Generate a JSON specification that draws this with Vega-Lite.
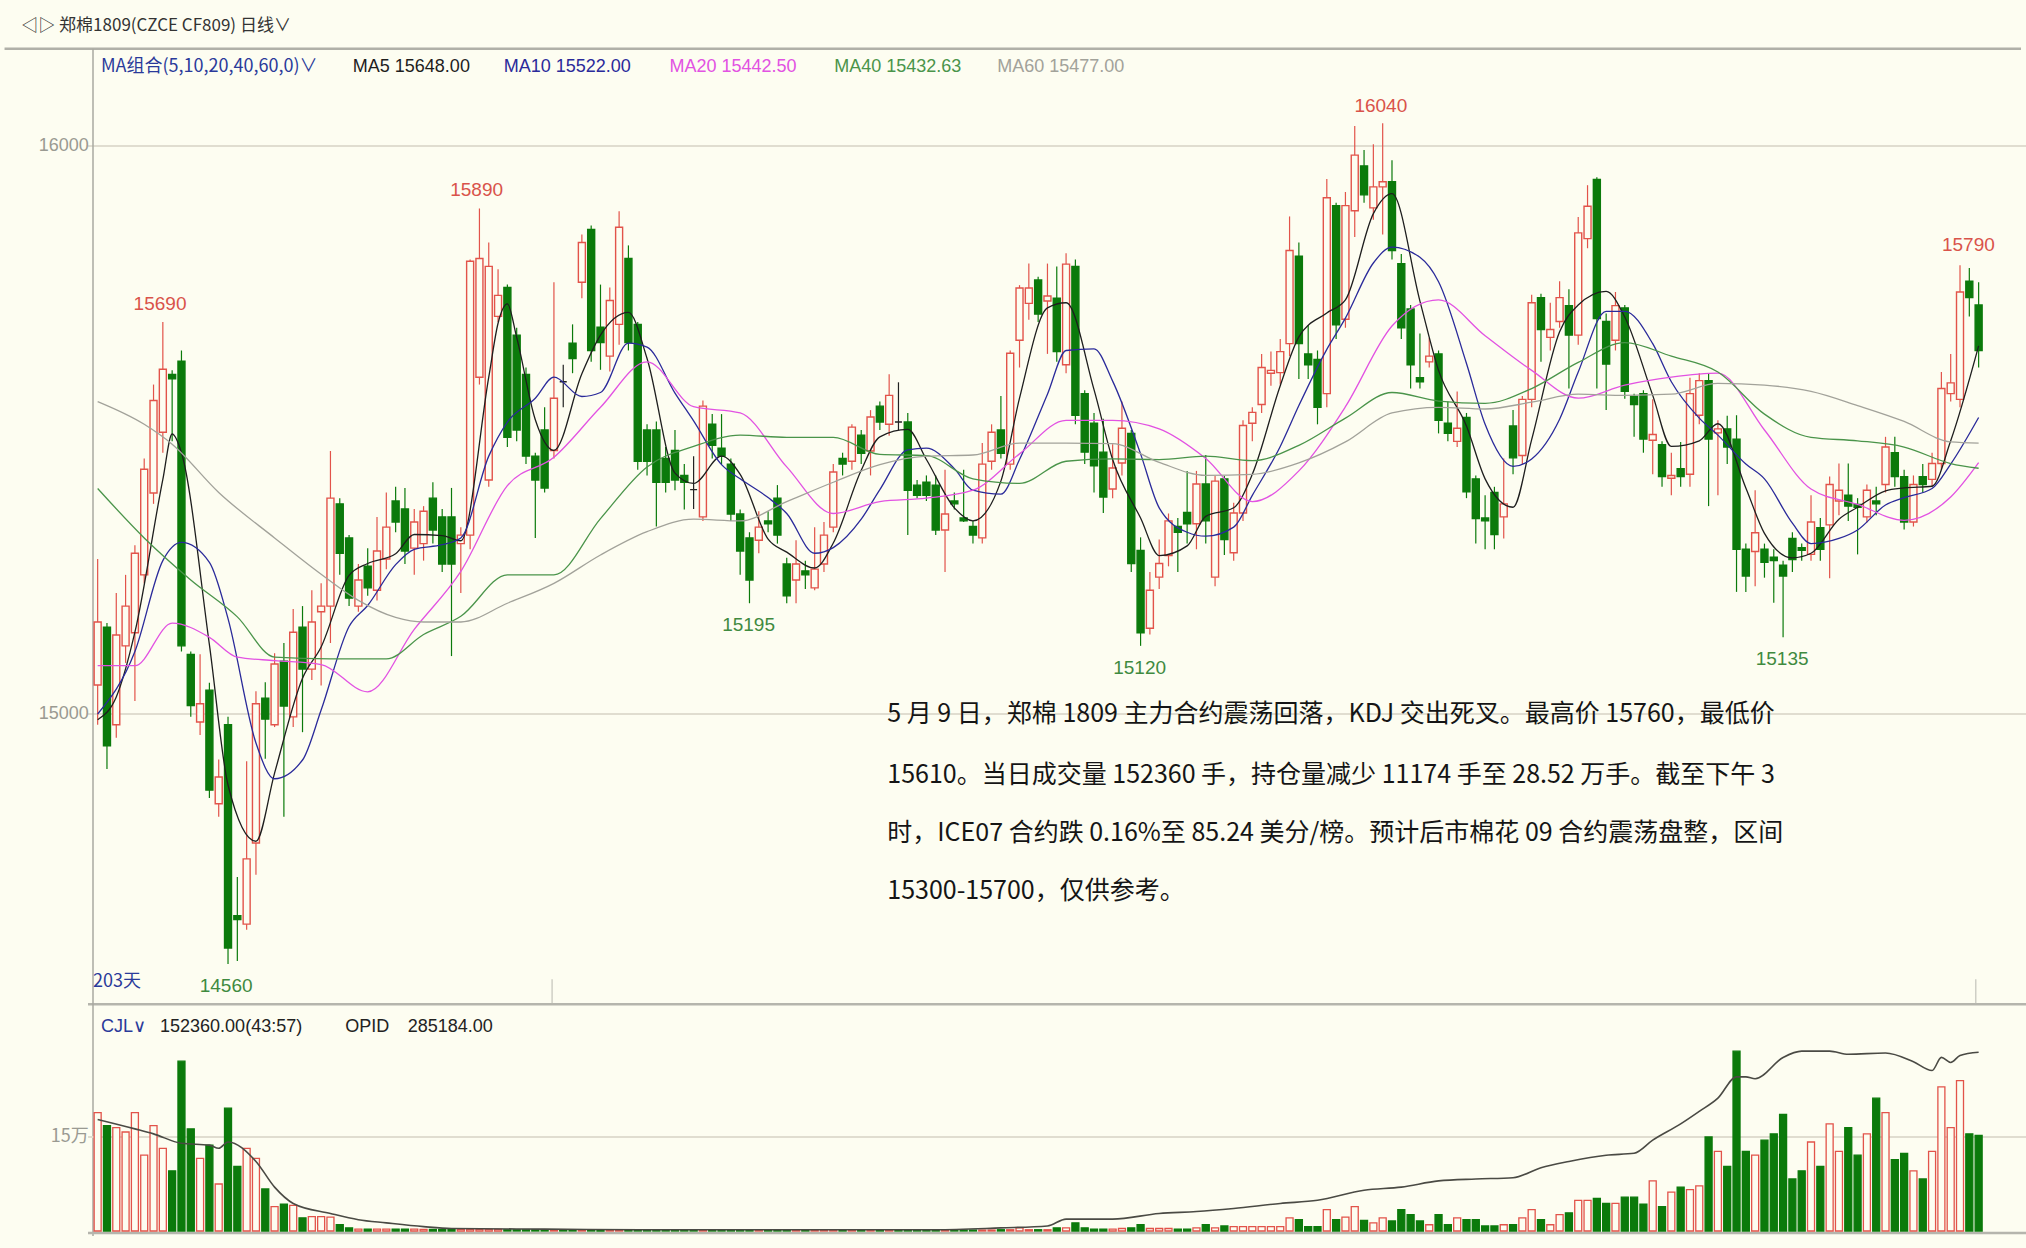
{
"$schema":"https://vega.github.io/schema/vega-lite/v6.json",
"width":1938,"height":1248,
"autosize":{"type":"none"},
"padding":{"left":88,"top":0,"right":0,"bottom":0},
"background":"#fdfdf1",
"config":{"view":{"stroke":null},"text":{"font":"Liberation Sans"}},
"datasets":{
"k":[
{"i":0,"o":15051,"h":15273,"l":14981,"c":15162,"v":189000},
{"i":1,"o":15153,"h":15160,"l":14903,"c":14944,"v":168000},
{"i":2,"o":14981,"h":15213,"l":14958,"c":15139,"v":165000},
{"i":3,"o":15120,"h":15245,"l":15090,"c":15190,"v":158000},
{"i":4,"o":15143,"h":15297,"l":15023,"c":15283,"v":189000},
{"i":5,"o":15245,"h":15450,"l":15230,"c":15431,"v":121000},
{"i":6,"o":15389,"h":15580,"l":15370,"c":15552,"v":168000},
{"i":7,"o":15496,"h":15690,"l":15460,"c":15607,"v":132000},
{"i":8,"o":15598,"h":15605,"l":15480,"c":15590,"v":96000},
{"i":9,"o":15621,"h":15640,"l":15110,"c":15120,"v":271000},
{"i":10,"o":15105,"h":15110,"l":14995,"c":15015,"v":163000},
{"i":11,"o":14986,"h":15105,"l":14963,"c":15018,"v":116000},
{"i":12,"o":15042,"h":15055,"l":14852,"c":14866,"v":137000},
{"i":13,"o":14842,"h":14920,"l":14819,"c":14889,"v":75000},
{"i":14,"o":14981,"h":14995,"l":14560,"c":14588,"v":196000},
{"i":15,"o":14645,"h":14713,"l":14565,"c":14638,"v":103000},
{"i":16,"o":14630,"h":14917,"l":14620,"c":14745,"v":132000},
{"i":17,"o":14773,"h":15040,"l":14717,"c":15018,"v":116000},
{"i":18,"o":15028,"h":15056,"l":14921,"c":14991,"v":67000},
{"i":19,"o":14981,"h":15107,"l":14977,"c":15088,"v":39000},
{"i":20,"o":15093,"h":15125,"l":14819,"c":15014,"v":43000},
{"i":21,"o":14995,"h":15185,"l":14977,"c":15144,"v":41000},
{"i":22,"o":15153,"h":15190,"l":14968,"c":15079,"v":21000},
{"i":23,"o":15079,"h":15218,"l":15060,"c":15162,"v":23000},
{"i":24,"o":15180,"h":15230,"l":15050,"c":15190,"v":23000},
{"i":25,"o":15190,"h":15463,"l":15125,"c":15380,"v":22000},
{"i":26,"o":15370,"h":15380,"l":15245,"c":15283,"v":10000},
{"i":27,"o":15310,"h":15315,"l":15190,"c":15204,"v":5000},
{"i":28,"o":15190,"h":15264,"l":15180,"c":15236,"v":3000},
{"i":29,"o":15260,"h":15292,"l":15208,"c":15222,"v":3000},
{"i":30,"o":15218,"h":15347,"l":15200,"c":15287,"v":3000},
{"i":31,"o":15273,"h":15390,"l":15255,"c":15329,"v":3000},
{"i":32,"o":15375,"h":15400,"l":15320,"c":15338,"v":3000},
{"i":33,"o":15361,"h":15398,"l":15264,"c":15287,"v":3000},
{"i":34,"o":15292,"h":15361,"l":15245,"c":15338,"v":3000},
{"i":35,"o":15300,"h":15366,"l":15270,"c":15357,"v":2500},
{"i":36,"o":15380,"h":15408,"l":15300,"c":15324,"v":2500},
{"i":37,"o":15347,"h":15361,"l":15250,"c":15264,"v":2500},
{"i":38,"o":15347,"h":15398,"l":15102,"c":15264,"v":2500},
{"i":39,"o":15300,"h":15329,"l":15213,"c":15315,"v":2500},
{"i":40,"o":15315,"h":15800,"l":15290,"c":15797,"v":2500},
{"i":41,"o":15593,"h":15890,"l":15580,"c":15802,"v":2500},
{"i":42,"o":15412,"h":15830,"l":15400,"c":15788,"v":2500},
{"i":43,"o":15700,"h":15783,"l":15690,"c":15737,"v":2500},
{"i":44,"o":15751,"h":15756,"l":15470,"c":15487,"v":2000},
{"i":45,"o":15667,"h":15680,"l":15480,"c":15500,"v":2000},
{"i":46,"o":15598,"h":15610,"l":15440,"c":15454,"v":2000},
{"i":47,"o":15454,"h":15460,"l":15310,"c":15412,"v":2000},
{"i":48,"o":15500,"h":15540,"l":15390,"c":15398,"v":2000},
{"i":49,"o":15464,"h":15760,"l":15450,"c":15556,"v":2000},
{"i":50,"o":15585,"h":15615,"l":15540,"c":15585,"v":1500},
{"i":51,"o":15653,"h":15686,"l":15600,"c":15626,"v":1500},
{"i":52,"o":15760,"h":15844,"l":15732,"c":15830,"v":1500},
{"i":53,"o":15853,"h":15860,"l":15620,"c":15640,"v":1500},
{"i":54,"o":15681,"h":15756,"l":15606,"c":15654,"v":1500},
{"i":55,"o":15630,"h":15751,"l":15603,"c":15728,"v":1500},
{"i":56,"o":15686,"h":15885,"l":15650,"c":15857,"v":1500},
{"i":57,"o":15802,"h":15825,"l":15640,"c":15654,"v":1500},
{"i":58,"o":15686,"h":15690,"l":15430,"c":15445,"v":1500},
{"i":59,"o":15500,"h":15510,"l":15420,"c":15445,"v":1500},
{"i":60,"o":15500,"h":15515,"l":15330,"c":15408,"v":1500},
{"i":61,"o":15450,"h":15470,"l":15390,"c":15408,"v":1500},
{"i":62,"o":15464,"h":15500,"l":15394,"c":15412,"v":1500},
{"i":63,"o":15420,"h":15440,"l":15360,"c":15408,"v":1500},
{"i":64,"o":15395,"h":15454,"l":15361,"c":15395,"v":1500},
{"i":65,"o":15347,"h":15552,"l":15340,"c":15542,"v":1500},
{"i":66,"o":15510,"h":15528,"l":15450,"c":15473,"v":1500},
{"i":67,"o":15468,"h":15528,"l":15440,"c":15454,"v":1500},
{"i":68,"o":15440,"h":15450,"l":15340,"c":15352,"v":1500},
{"i":69,"o":15352,"h":15360,"l":15245,"c":15287,"v":1500},
{"i":70,"o":15310,"h":15320,"l":15195,"c":15236,"v":1500},
{"i":71,"o":15306,"h":15357,"l":15283,"c":15329,"v":1500},
{"i":72,"o":15340,"h":15357,"l":15320,"c":15335,"v":1500},
{"i":73,"o":15380,"h":15403,"l":15300,"c":15315,"v":1500},
{"i":74,"o":15264,"h":15275,"l":15195,"c":15208,"v":1500},
{"i":75,"o":15236,"h":15306,"l":15195,"c":15264,"v":1500},
{"i":76,"o":15252,"h":15270,"l":15220,"c":15245,"v":1500},
{"i":77,"o":15222,"h":15329,"l":15218,"c":15255,"v":1500},
{"i":78,"o":15264,"h":15338,"l":15250,"c":15315,"v":1500},
{"i":79,"o":15329,"h":15440,"l":15320,"c":15426,"v":1500},
{"i":80,"o":15450,"h":15460,"l":15420,"c":15440,"v":1500},
{"i":81,"o":15445,"h":15510,"l":15430,"c":15505,"v":1500},
{"i":82,"o":15491,"h":15500,"l":15440,"c":15459,"v":1500},
{"i":83,"o":15463,"h":15535,"l":15420,"c":15523,"v":1500},
{"i":84,"o":15542,"h":15550,"l":15500,"c":15514,"v":1500},
{"i":85,"o":15510,"h":15598,"l":15490,"c":15561,"v":1500},
{"i":86,"o":15514,"h":15584,"l":15500,"c":15514,"v":1500},
{"i":87,"o":15514,"h":15530,"l":15315,"c":15394,"v":1500},
{"i":88,"o":15403,"h":15412,"l":15380,"c":15385,"v":1500},
{"i":89,"o":15408,"h":15420,"l":15375,"c":15385,"v":1500},
{"i":90,"o":15403,"h":15420,"l":15315,"c":15324,"v":1500},
{"i":91,"o":15324,"h":15430,"l":15250,"c":15352,"v":1500},
{"i":92,"o":15375,"h":15390,"l":15360,"c":15370,"v":1500},
{"i":93,"o":15345,"h":15430,"l":15338,"c":15340,"v":1500},
{"i":94,"o":15330,"h":15340,"l":15300,"c":15315,"v":1500},
{"i":95,"o":15310,"h":15477,"l":15300,"c":15440,"v":1500},
{"i":96,"o":15445,"h":15510,"l":15430,"c":15496,"v":1500},
{"i":97,"o":15500,"h":15560,"l":15450,"c":15459,"v":2000},
{"i":98,"o":15440,"h":15640,"l":15430,"c":15635,"v":2000},
{"i":99,"o":15658,"h":15755,"l":15610,"c":15750,"v":5000},
{"i":100,"o":15723,"h":15793,"l":15694,"c":15750,"v":2000},
{"i":101,"o":15764,"h":15770,"l":15690,"c":15704,"v":2000},
{"i":102,"o":15727,"h":15793,"l":15634,"c":15736,"v":2000},
{"i":103,"o":15732,"h":15788,"l":15620,"c":15638,"v":5000},
{"i":104,"o":15615,"h":15811,"l":15600,"c":15792,"v":5000},
{"i":105,"o":15788,"h":15800,"l":15510,"c":15526,"v":13000},
{"i":106,"o":15564,"h":15570,"l":15440,"c":15461,"v":5000},
{"i":107,"o":15512,"h":15530,"l":15390,"c":15437,"v":3000},
{"i":108,"o":15461,"h":15520,"l":15354,"c":15382,"v":3000},
{"i":109,"o":15396,"h":15475,"l":15380,"c":15433,"v":3000},
{"i":110,"o":15442,"h":15550,"l":15420,"c":15503,"v":4000},
{"i":111,"o":15494,"h":15500,"l":15250,"c":15265,"v":5000},
{"i":112,"o":15288,"h":15311,"l":15120,"c":15143,"v":10000},
{"i":113,"o":15151,"h":15250,"l":15140,"c":15218,"v":4000},
{"i":114,"o":15241,"h":15307,"l":15220,"c":15265,"v":4000},
{"i":115,"o":15279,"h":15353,"l":15260,"c":15340,"v":4000},
{"i":116,"o":15330,"h":15345,"l":15250,"c":15320,"v":3000},
{"i":117,"o":15355,"h":15428,"l":15300,"c":15335,"v":3000},
{"i":118,"o":15335,"h":15428,"l":15290,"c":15405,"v":5000},
{"i":119,"o":15405,"h":15456,"l":15300,"c":15340,"v":10000},
{"i":120,"o":15241,"h":15419,"l":15225,"c":15410,"v":5000},
{"i":121,"o":15414,"h":15419,"l":15280,"c":15307,"v":8000},
{"i":122,"o":15284,"h":15372,"l":15270,"c":15354,"v":7000},
{"i":123,"o":15354,"h":15517,"l":15340,"c":15508,"v":7000},
{"i":124,"o":15512,"h":15540,"l":15480,"c":15531,"v":7000},
{"i":125,"o":15545,"h":15634,"l":15530,"c":15610,"v":7000},
{"i":126,"o":15600,"h":15638,"l":15578,"c":15605,"v":7000},
{"i":127,"o":15601,"h":15660,"l":15580,"c":15638,"v":7000},
{"i":128,"o":15652,"h":15876,"l":15630,"c":15816,"v":21000},
{"i":129,"o":15806,"h":15830,"l":15590,"c":15652,"v":18000},
{"i":130,"o":15634,"h":15685,"l":15590,"c":15615,"v":7000},
{"i":131,"o":15624,"h":15640,"l":15510,"c":15540,"v":7000},
{"i":132,"o":15564,"h":15942,"l":15540,"c":15909,"v":34000},
{"i":133,"o":15895,"h":15900,"l":15660,"c":15685,"v":18000},
{"i":134,"o":15695,"h":15919,"l":15680,"c":15895,"v":22000},
{"i":135,"o":15886,"h":16035,"l":15840,"c":15984,"v":39000},
{"i":136,"o":15965,"h":15993,"l":15900,"c":15914,"v":17000},
{"i":137,"o":15891,"h":16003,"l":15870,"c":15928,"v":13000},
{"i":138,"o":15928,"h":16040,"l":15844,"c":15937,"v":21000},
{"i":139,"o":15937,"h":15975,"l":15800,"c":15816,"v":16000},
{"i":140,"o":15793,"h":15810,"l":15660,"c":15680,"v":34000},
{"i":141,"o":15713,"h":15720,"l":15573,"c":15615,"v":26000},
{"i":142,"o":15592,"h":15670,"l":15573,"c":15585,"v":16000},
{"i":143,"o":15620,"h":15662,"l":15610,"c":15630,"v":10000},
{"i":144,"o":15634,"h":15640,"l":15494,"c":15517,"v":26000},
{"i":145,"o":15512,"h":15550,"l":15480,"c":15494,"v":10000},
{"i":146,"o":15480,"h":15568,"l":15470,"c":15503,"v":21000},
{"i":147,"o":15522,"h":15530,"l":15380,"c":15391,"v":18000},
{"i":148,"o":15414,"h":15420,"l":15300,"c":15344,"v":18000},
{"i":149,"o":15345,"h":15385,"l":15290,"c":15340,"v":8000},
{"i":150,"o":15390,"h":15400,"l":15290,"c":15316,"v":8000},
{"i":151,"o":15347,"h":15450,"l":15309,"c":15370,"v":10000},
{"i":152,"o":15507,"h":15535,"l":15422,"c":15451,"v":10000},
{"i":153,"o":15455,"h":15560,"l":15440,"c":15554,"v":21000},
{"i":154,"o":15554,"h":15738,"l":15540,"c":15724,"v":34000},
{"i":155,"o":15733,"h":15740,"l":15620,"c":15677,"v":18000},
{"i":156,"o":15663,"h":15724,"l":15640,"c":15677,"v":10000},
{"i":157,"o":15691,"h":15762,"l":15680,"c":15733,"v":26000},
{"i":158,"o":15719,"h":15748,"l":15573,"c":15667,"v":29000},
{"i":159,"o":15667,"h":15875,"l":15650,"c":15847,"v":49000},
{"i":160,"o":15837,"h":15931,"l":15820,"c":15894,"v":49000},
{"i":161,"o":15941,"h":15945,"l":15573,"c":15696,"v":52000},
{"i":162,"o":15691,"h":15705,"l":15535,"c":15616,"v":44000},
{"i":163,"o":15658,"h":15743,"l":15640,"c":15719,"v":44000},
{"i":164,"o":15715,"h":15720,"l":15555,"c":15568,"v":54000},
{"i":165,"o":15559,"h":15564,"l":15488,"c":15545,"v":54000},
{"i":166,"o":15564,"h":15570,"l":15460,"c":15484,"v":43000},
{"i":167,"o":15482,"h":15554,"l":15422,"c":15492,"v":80000},
{"i":168,"o":15474,"h":15480,"l":15400,"c":15418,"v":39000},
{"i":169,"o":15415,"h":15460,"l":15385,"c":15420,"v":62000},
{"i":170,"o":15432,"h":15479,"l":15400,"c":15418,"v":70000},
{"i":171,"o":15422,"h":15592,"l":15400,"c":15564,"v":66000},
{"i":172,"o":15526,"h":15600,"l":15510,"c":15587,"v":72000},
{"i":173,"o":15587,"h":15600,"l":15366,"c":15484,"v":150000},
{"i":174,"o":15495,"h":15517,"l":15385,"c":15502,"v":127000},
{"i":175,"o":15502,"h":15525,"l":15440,"c":15470,"v":103000},
{"i":176,"o":15484,"h":15526,"l":15215,"c":15290,"v":287000},
{"i":177,"o":15290,"h":15300,"l":15215,"c":15243,"v":127000},
{"i":178,"o":15286,"h":15394,"l":15225,"c":15319,"v":121000},
{"i":179,"o":15290,"h":15300,"l":15240,"c":15267,"v":145000},
{"i":180,"o":15276,"h":15290,"l":15196,"c":15270,"v":155000},
{"i":181,"o":15262,"h":15270,"l":15135,"c":15243,"v":186000},
{"i":182,"o":15309,"h":15320,"l":15250,"c":15272,"v":83000},
{"i":183,"o":15293,"h":15300,"l":15270,"c":15288,"v":96000},
{"i":184,"o":15281,"h":15385,"l":15270,"c":15338,"v":142000},
{"i":185,"o":15328,"h":15345,"l":15270,"c":15290,"v":103000},
{"i":186,"o":15333,"h":15418,"l":15239,"c":15404,"v":171000},
{"i":187,"o":15375,"h":15441,"l":15350,"c":15394,"v":127000},
{"i":188,"o":15385,"h":15441,"l":15340,"c":15366,"v":165000},
{"i":189,"o":15369,"h":15380,"l":15281,"c":15364,"v":121000},
{"i":190,"o":15347,"h":15404,"l":15337,"c":15394,"v":155000},
{"i":191,"o":15375,"h":15400,"l":15350,"c":15370,"v":212000},
{"i":192,"o":15404,"h":15488,"l":15390,"c":15470,"v":189000},
{"i":193,"o":15460,"h":15488,"l":15400,"c":15418,"v":114000},
{"i":194,"o":15418,"h":15430,"l":15325,"c":15338,"v":124000},
{"i":195,"o":15338,"h":15420,"l":15330,"c":15404,"v":96000},
{"i":196,"o":15418,"h":15440,"l":15390,"c":15404,"v":83000},
{"i":197,"o":15413,"h":15460,"l":15400,"c":15441,"v":127000},
{"i":198,"o":15441,"h":15602,"l":15430,"c":15573,"v":230000},
{"i":199,"o":15564,"h":15634,"l":15550,"c":15583,"v":165000},
{"i":200,"o":15554,"h":15790,"l":15540,"c":15743,"v":240000},
{"i":201,"o":15762,"h":15785,"l":15700,"c":15733,"v":155000},
{"i":202,"o":15720,"h":15760,"l":15610,"c":15640,"v":152360}
],
"ma":[
{"ma":"MA5","i":0,"v":14990},{"ma":"MA5","i":2,"v":15030},{"ma":"MA5","i":4,"v":15144},{"ma":"MA5","i":7,"v":15413},{"ma":"MA5","i":8,"v":15493},{"ma":"MA5","i":9,"v":15460},{"ma":"MA5","i":12,"v":15122},{"ma":"MA5","i":14,"v":14875},{"ma":"MA5","i":17,"v":14776},{"ma":"MA5","i":19,"v":14896},{"ma":"MA5","i":22,"v":15063},{"ma":"MA5","i":24,"v":15118},{"ma":"MA5","i":27,"v":15244},{"ma":"MA5","i":29,"v":15265},{"ma":"MA5","i":32,"v":15282},{"ma":"MA5","i":34,"v":15316},{"ma":"MA5","i":37,"v":15314},{"ma":"MA5","i":39,"v":15305},{"ma":"MA5","i":42,"v":15593},{"ma":"MA5","i":43,"v":15688},{"ma":"MA5","i":44,"v":15722},{"ma":"MA5","i":45,"v":15663},{"ma":"MA5","i":47,"v":15518},{"ma":"MA5","i":49,"v":15464},{"ma":"MA5","i":52,"v":15599},{"ma":"MA5","i":54,"v":15667},{"ma":"MA5","i":57,"v":15707},{"ma":"MA5","i":59,"v":15626},{"ma":"MA5","i":62,"v":15424},{"ma":"MA5","i":64,"v":15406},{"ma":"MA5","i":67,"v":15454},{"ma":"MA5","i":69,"v":15422},{"ma":"MA5","i":72,"v":15308},{"ma":"MA5","i":74,"v":15285},{"ma":"MA5","i":77,"v":15257},{"ma":"MA5","i":79,"v":15301},{"ma":"MA5","i":82,"v":15429},{"ma":"MA5","i":84,"v":15488},{"ma":"MA5","i":87,"v":15501},{"ma":"MA5","i":89,"v":15448},{"ma":"MA5","i":92,"v":15363},{"ma":"MA5","i":94,"v":15340},{"ma":"MA5","i":97,"v":15410},{"ma":"MA5","i":99,"v":15556},{"ma":"MA5","i":102,"v":15715},{"ma":"MA5","i":104,"v":15724},{"ma":"MA5","i":107,"v":15571},{"ma":"MA5","i":109,"v":15448},{"ma":"MA5","i":112,"v":15345},{"ma":"MA5","i":114,"v":15279},{"ma":"MA5","i":117,"v":15296},{"ma":"MA5","i":119,"v":15348},{"ma":"MA5","i":122,"v":15363},{"ma":"MA5","i":124,"v":15422},{"ma":"MA5","i":127,"v":15578},{"ma":"MA5","i":129,"v":15664},{"ma":"MA5","i":132,"v":15706},{"ma":"MA5","i":134,"v":15729},{"ma":"MA5","i":137,"v":15881},{"ma":"MA5","i":139,"v":15916},{"ma":"MA5","i":142,"v":15727},{"ma":"MA5","i":144,"v":15605},{"ma":"MA5","i":147,"v":15507},{"ma":"MA5","i":149,"v":15414},{"ma":"MA5","i":152,"v":15364},{"ma":"MA5","i":154,"v":15483},{"ma":"MA5","i":157,"v":15673},{"ma":"MA5","i":159,"v":15720},{"ma":"MA5","i":162,"v":15744},{"ma":"MA5","i":164,"v":15699},{"ma":"MA5","i":167,"v":15561},{"ma":"MA5","i":169,"v":15471},{"ma":"MA5","i":172,"v":15481},{"ma":"MA5","i":174,"v":15511},{"ma":"MA5","i":177,"v":15398},{"ma":"MA5","i":179,"v":15318},{"ma":"MA5","i":182,"v":15275},{"ma":"MA5","i":184,"v":15283},{"ma":"MA5","i":187,"v":15343},{"ma":"MA5","i":189,"v":15364},{"ma":"MA5","i":192,"v":15393},{"ma":"MA5","i":194,"v":15398},{"ma":"MA5","i":197,"v":15401},{"ma":"MA5","i":199,"v":15481},{"ma":"MA5","i":202,"v":15648},
{"ma":"MA10","i":0,"v":15000},{"ma":"MA10","i":4,"v":15110},{"ma":"MA10","i":7,"v":15270},{"ma":"MA10","i":9,"v":15302},{"ma":"MA10","i":12,"v":15267},{"ma":"MA10","i":14,"v":15168},{"ma":"MA10","i":17,"v":14949},{"ma":"MA10","i":19,"v":14886},{"ma":"MA10","i":22,"v":14919},{"ma":"MA10","i":24,"v":15007},{"ma":"MA10","i":27,"v":15154},{"ma":"MA10","i":29,"v":15191},{"ma":"MA10","i":32,"v":15263},{"ma":"MA10","i":34,"v":15290},{"ma":"MA10","i":37,"v":15298},{"ma":"MA10","i":39,"v":15310},{"ma":"MA10","i":42,"v":15454},{"ma":"MA10","i":44,"v":15514},{"ma":"MA10","i":47,"v":15556},{"ma":"MA10","i":49,"v":15593},{"ma":"MA10","i":52,"v":15559},{"ma":"MA10","i":54,"v":15566},{"ma":"MA10","i":57,"v":15653},{"ma":"MA10","i":59,"v":15646},{"ma":"MA10","i":62,"v":15565},{"ma":"MA10","i":64,"v":15516},{"ma":"MA10","i":67,"v":15439},{"ma":"MA10","i":69,"v":15414},{"ma":"MA10","i":72,"v":15381},{"ma":"MA10","i":74,"v":15353},{"ma":"MA10","i":77,"v":15283},{"ma":"MA10","i":79,"v":15293},{"ma":"MA10","i":82,"v":15343},{"ma":"MA10","i":84,"v":15395},{"ma":"MA10","i":87,"v":15465},{"ma":"MA10","i":89,"v":15468},{"ma":"MA10","i":92,"v":15432},{"ma":"MA10","i":94,"v":15394},{"ma":"MA10","i":97,"v":15387},{"ma":"MA10","i":99,"v":15448},{"ma":"MA10","i":102,"v":15563},{"ma":"MA10","i":104,"v":15640},{"ma":"MA10","i":107,"v":15643},{"ma":"MA10","i":109,"v":15586},{"ma":"MA10","i":112,"v":15458},{"ma":"MA10","i":114,"v":15363},{"ma":"MA10","i":117,"v":15320},{"ma":"MA10","i":119,"v":15313},{"ma":"MA10","i":122,"v":15329},{"ma":"MA10","i":124,"v":15385},{"ma":"MA10","i":127,"v":15471},{"ma":"MA10","i":129,"v":15543},{"ma":"MA10","i":132,"v":15642},{"ma":"MA10","i":134,"v":15697},{"ma":"MA10","i":137,"v":15794},{"ma":"MA10","i":139,"v":15822},{"ma":"MA10","i":142,"v":15804},{"ma":"MA10","i":144,"v":15761},{"ma":"MA10","i":147,"v":15617},{"ma":"MA10","i":149,"v":15510},{"ma":"MA10","i":152,"v":15436},{"ma":"MA10","i":154,"v":15449},{"ma":"MA10","i":157,"v":15519},{"ma":"MA10","i":159,"v":15602},{"ma":"MA10","i":162,"v":15709},{"ma":"MA10","i":164,"v":15709},{"ma":"MA10","i":167,"v":15652},{"ma":"MA10","i":169,"v":15585},{"ma":"MA10","i":172,"v":15521},{"ma":"MA10","i":174,"v":15491},{"ma":"MA10","i":177,"v":15440},{"ma":"MA10","i":179,"v":15414},{"ma":"MA10","i":182,"v":15336},{"ma":"MA10","i":184,"v":15300},{"ma":"MA10","i":187,"v":15309},{"ma":"MA10","i":189,"v":15324},{"ma":"MA10","i":192,"v":15368},{"ma":"MA10","i":194,"v":15381},{"ma":"MA10","i":197,"v":15397},{"ma":"MA10","i":199,"v":15440},{"ma":"MA10","i":202,"v":15522},
{"ma":"MA20","i":0,"v":15085},{"ma":"MA20","i":4,"v":15085},{"ma":"MA20","i":8,"v":15160},{"ma":"MA20","i":12,"v":15135},{"ma":"MA20","i":15,"v":15100},{"ma":"MA20","i":19,"v":15094},{"ma":"MA20","i":24,"v":15087},{"ma":"MA20","i":29,"v":15039},{"ma":"MA20","i":34,"v":15149},{"ma":"MA20","i":39,"v":15251},{"ma":"MA20","i":44,"v":15402},{"ma":"MA20","i":49,"v":15452},{"ma":"MA20","i":54,"v":15540},{"ma":"MA20","i":59,"v":15620},{"ma":"MA20","i":64,"v":15541},{"ma":"MA20","i":69,"v":15530},{"ma":"MA20","i":74,"v":15435},{"ma":"MA20","i":79,"v":15353},{"ma":"MA20","i":84,"v":15374},{"ma":"MA20","i":89,"v":15380},{"ma":"MA20","i":94,"v":15394},{"ma":"MA20","i":99,"v":15458},{"ma":"MA20","i":104,"v":15517},{"ma":"MA20","i":109,"v":15517},{"ma":"MA20","i":114,"v":15502},{"ma":"MA20","i":119,"v":15450},{"ma":"MA20","i":124,"v":15374},{"ma":"MA20","i":129,"v":15428},{"ma":"MA20","i":134,"v":15541},{"ma":"MA20","i":139,"v":15683},{"ma":"MA20","i":144,"v":15729},{"ma":"MA20","i":149,"v":15666},{"ma":"MA20","i":154,"v":15605},{"ma":"MA20","i":159,"v":15556},{"ma":"MA20","i":164,"v":15579},{"ma":"MA20","i":169,"v":15593},{"ma":"MA20","i":174,"v":15600},{"ma":"MA20","i":179,"v":15500},{"ma":"MA20","i":184,"v":15396},{"ma":"MA20","i":189,"v":15369},{"ma":"MA20","i":194,"v":15341},{"ma":"MA20","i":199,"v":15382},{"ma":"MA20","i":202,"v":15442.5},
{"ma":"MA40","i":0,"v":15397},{"ma":"MA40","i":5,"v":15310},{"ma":"MA40","i":10,"v":15236},{"ma":"MA40","i":15,"v":15171},{"ma":"MA40","i":19,"v":15100},{"ma":"MA40","i":25,"v":15097},{"ma":"MA40","i":31,"v":15097},{"ma":"MA40","i":35,"v":15140},{"ma":"MA40","i":39,"v":15172},{"ma":"MA40","i":44,"v":15245},{"ma":"MA40","i":49,"v":15245},{"ma":"MA40","i":54,"v":15344},{"ma":"MA40","i":59,"v":15435},{"ma":"MA40","i":64,"v":15471},{"ma":"MA40","i":69,"v":15491},{"ma":"MA40","i":74,"v":15487},{"ma":"MA40","i":79,"v":15487},{"ma":"MA40","i":84,"v":15457},{"ma":"MA40","i":89,"v":15455},{"ma":"MA40","i":94,"v":15414},{"ma":"MA40","i":99,"v":15406},{"ma":"MA40","i":104,"v":15445},{"ma":"MA40","i":109,"v":15449},{"ma":"MA40","i":114,"v":15448},{"ma":"MA40","i":119,"v":15454},{"ma":"MA40","i":124,"v":15446},{"ma":"MA40","i":129,"v":15473},{"ma":"MA40","i":134,"v":15521},{"ma":"MA40","i":139,"v":15566},{"ma":"MA40","i":144,"v":15551},{"ma":"MA40","i":149,"v":15547},{"ma":"MA40","i":154,"v":15573},{"ma":"MA40","i":159,"v":15619},{"ma":"MA40","i":164,"v":15654},{"ma":"MA40","i":169,"v":15630},{"ma":"MA40","i":174,"v":15602},{"ma":"MA40","i":179,"v":15528},{"ma":"MA40","i":184,"v":15487},{"ma":"MA40","i":189,"v":15481},{"ma":"MA40","i":194,"v":15470},{"ma":"MA40","i":199,"v":15441},{"ma":"MA40","i":202,"v":15432.63},
{"ma":"MA60","i":0,"v":15550},{"ma":"MA60","i":5,"v":15510},{"ma":"MA60","i":8,"v":15475},{"ma":"MA60","i":13,"v":15390},{"ma":"MA60","i":19,"v":15310},{"ma":"MA60","i":24,"v":15246},{"ma":"MA60","i":28,"v":15200},{"ma":"MA60","i":32,"v":15170},{"ma":"MA60","i":35,"v":15162},{"ma":"MA60","i":39,"v":15162},{"ma":"MA60","i":44,"v":15195},{"ma":"MA60","i":49,"v":15230},{"ma":"MA60","i":54,"v":15280},{"ma":"MA60","i":59,"v":15321},{"ma":"MA60","i":64,"v":15343},{"ma":"MA60","i":69,"v":15340},{"ma":"MA60","i":74,"v":15374},{"ma":"MA60","i":79,"v":15408},{"ma":"MA60","i":84,"v":15439},{"ma":"MA60","i":89,"v":15454},{"ma":"MA60","i":94,"v":15456},{"ma":"MA60","i":99,"v":15477},{"ma":"MA60","i":104,"v":15477},{"ma":"MA60","i":109,"v":15476},{"ma":"MA60","i":114,"v":15443},{"ma":"MA60","i":119,"v":15420},{"ma":"MA60","i":124,"v":15422},{"ma":"MA60","i":129,"v":15442},{"ma":"MA60","i":134,"v":15479},{"ma":"MA60","i":139,"v":15530},{"ma":"MA60","i":144,"v":15540},{"ma":"MA60","i":149,"v":15537},{"ma":"MA60","i":154,"v":15549},{"ma":"MA60","i":159,"v":15563},{"ma":"MA60","i":164,"v":15561},{"ma":"MA60","i":169,"v":15563},{"ma":"MA60","i":174,"v":15582},{"ma":"MA60","i":179,"v":15579},{"ma":"MA60","i":184,"v":15568},{"ma":"MA60","i":189,"v":15543},{"ma":"MA60","i":194,"v":15515},{"ma":"MA60","i":199,"v":15479},{"ma":"MA60","i":202,"v":15477}
],
"oi":[
{"i":0,"v":178000},{"i":4,"v":163000},{"i":6,"v":155000},{"i":9,"v":140000},{"i":12,"v":137000},{"i":13,"v":132000},{"i":14,"v":142000},{"i":17,"v":111000},{"i":19,"v":70000},{"i":21,"v":44000},{"i":25,"v":28000},{"i":28,"v":18000},{"i":31,"v":13000},{"i":35,"v":7000},{"i":38,"v":4000},{"i":48,"v":3000},{"i":60,"v":2000},{"i":75,"v":2000},{"i":90,"v":2000},{"i":97,"v":5000},{"i":102,"v":8000},{"i":104,"v":19000},{"i":109,"v":19000},{"i":114,"v":28000},{"i":118,"v":31000},{"i":122,"v":36000},{"i":127,"v":44000},{"i":131,"v":49000},{"i":136,"v":65000},{"i":140,"v":70000},{"i":144,"v":80000},{"i":148,"v":83000},{"i":152,"v":85000},{"i":155,"v":101000},{"i":158,"v":111000},{"i":162,"v":121000},{"i":165,"v":124000},{"i":167,"v":145000},{"i":170,"v":171000},{"i":172,"v":191000},{"i":174,"v":212000},{"i":176,"v":246000},{"i":177,"v":246000},{"i":178,"v":243000},{"i":181,"v":277000},{"i":183,"v":287000},{"i":186,"v":287000},{"i":188,"v":282000},{"i":192,"v":284000},{"i":195,"v":270000},{"i":197,"v":256000},{"i":198,"v":277000},{"i":199,"v":269000},{"i":200,"v":280000},{"i":202,"v":285184}
],
"malg":[
{"t":"MA5 15648.00","ma":"MA5","i":27.4,"p":16139},
{"t":"MA10 15522.00","ma":"MA10","i":43.6,"p":16139},
{"t":"MA20 15442.50","ma":"MA20","i":61.4,"p":16139},
{"t":"MA40 15432.63","ma":"MA40","i":79.1,"p":16139},
{"t":"MA60 15477.00","ma":"MA60","i":96.6,"p":16139}
],
"peaks":[
{"t":"15690","k":"hi","i":6.7,"p":15722},
{"t":"15890","k":"hi","i":40.7,"p":15922},
{"t":"16040","k":"hi","i":137.8,"p":16070},
{"t":"15790","k":"hi","i":200.9,"p":15826},
{"t":"14560","k":"lo","i":13.8,"p":14521},
{"t":"15195","k":"lo","i":69.9,"p":15157},
{"t":"15120","k":"lo","i":111.9,"p":15081},
{"t":"15135","k":"lo","i":180.9,"p":15097}
],
"note":[
{"t":"5 月 9 日，郑棉 1809 主力合约震荡回落，KDJ 交出死叉。最高价 15760，最低价","i":84.8,"p":15000},
{"t":"15610。当日成交量 152360 手，持仓量减少 11174 手至 28.52 万手。截至下午 3","i":84.8,"p":14893},
{"t":"时，ICE07 合约跌 0.16%至 85.24 美分/榜。预计后市棉花 09 合约震荡盘整，区间","i":84.8,"p":14791},
{"t":"15300-15700，仅供参考。","i":84.8,"p":14689}
]
},
"layer":[
{
"layer":[
{"data":{"values":[{"p":16000},{"p":15000}]},"mark":{"type":"rule","color":"#e0ddd0","strokeWidth":2},
 "encoding":{"y":{"field":"p","type":"quantitative","scale":{"domain":[15000,16000],"range":[714,146],"nice":false,"zero":false},"axis":null}}},
{"data":{"values":[{"p":14489}]},"mark":{"type":"rule","color":"#b5b5ad","strokeWidth":2.5},
 "encoding":{"y":{"field":"p","type":"quantitative","axis":null}}},
{"data":{"values":[{"p":16171,"i":-10,"i2":206.55}]},"mark":{"type":"rule","color":"#b0b0a8","strokeWidth":2.5},
 "encoding":{"x":{"field":"i","type":"quantitative","scale":{"domain":[-0.5,206.55],"nice":false,"zero":false},"axis":null},"x2":{"field":"i2"},"y":{"field":"p","type":"quantitative","axis":null}}},
{"data":{"values":[{"i":-0.5,"p":16171,"p2":14081}]},"mark":{"type":"rule","color":"#a8a8a0","strokeWidth":1.5},
 "encoding":{"x":{"field":"i","type":"quantitative","axis":null},"y":{"field":"p","type":"quantitative","axis":null},"y2":{"field":"p2"}}},
{"data":{"values":[{"i":48.8,"p":14533,"p2":14489},{"i":201.7,"p":14533,"p2":14489}]},"mark":{"type":"rule","color":"#b8b8b0","strokeWidth":1},
 "encoding":{"x":{"field":"i","type":"quantitative","axis":null},"y":{"field":"p","type":"quantitative","axis":null},"y2":{"field":"p2"}}},
{"data":{"name":"k"},"mark":{"type":"rule","strokeWidth":1.2},
 "encoding":{"x":{"field":"i","type":"quantitative","axis":null},"y":{"field":"l","type":"quantitative","axis":null},"y2":{"field":"h"},
  "color":{"condition":[{"test":"datum.c > datum.o","value":"#e2534a"},{"test":"datum.c == datum.o","value":"#222222"}],"value":"#0b7a0b"}}},
{"data":{"name":"k"},"mark":{"type":"bar","size":7,"strokeWidth":1.4},
 "encoding":{"x":{"field":"i","type":"quantitative","axis":null},"y":{"field":"o","type":"quantitative","axis":null},"y2":{"field":"c"},
  "fill":{"condition":[{"test":"datum.c > datum.o","value":"#fdfdf1"},{"test":"datum.c == datum.o","value":"#222222"}],"value":"#0b7a0b"},
  "stroke":{"condition":[{"test":"datum.c > datum.o","value":"#e2534a"},{"test":"datum.c == datum.o","value":"#222222"}],"value":"#0b7a0b"}}},
{"data":{"name":"ma"},"mark":{"type":"line","strokeWidth":1.3,"interpolate":"monotone"},
 "encoding":{"x":{"field":"i","type":"quantitative","axis":null},"y":{"field":"v","type":"quantitative","axis":null},
  "color":{"field":"ma","type":"nominal","scale":{"domain":["MA5","MA10","MA20","MA40","MA60"],"range":["#1e1e1e","#2a2a9a","#e252e2","#4a944a","#a2a29a"]},"legend":null}}},
{"data":{"name":"malg"},"mark":{"type":"text","align":"left","baseline":"middle","fontSize":18},
 "encoding":{"x":{"field":"i","type":"quantitative","axis":null},"y":{"field":"p","type":"quantitative","axis":null},"text":{"field":"t"},
  "color":{"field":"ma","type":"nominal","legend":null}}},
{"data":{"values":[{"t":"MA组合(5,10,20,40,60,0)∨","i":0.35,"p":16139}]},"mark":{"type":"text","align":"left","baseline":"middle","fontSize":18,"color":"#2a3a9a","font":"Noto Sans CJK SC"},
 "encoding":{"x":{"field":"i","type":"quantitative","axis":null},"y":{"field":"p","type":"quantitative","axis":null},"text":{"field":"t"}}},
{"data":{"values":[{"t":"◁▷ 郑棉1809(CZCE CF809)   日线∨","i":-8.2,"p":16211}]},"mark":{"type":"text","align":"left","baseline":"middle","fontSize":17,"color":"#333333","font":"Noto Sans CJK SC"},
 "encoding":{"x":{"field":"i","type":"quantitative","axis":null},"y":{"field":"p","type":"quantitative","axis":null},"text":{"field":"t"}}},
{"data":{"values":[{"t":"16000","i":-0.95,"p":16000},{"t":"15000","i":-0.95,"p":15000}]},"mark":{"type":"text","align":"right","baseline":"middle","fontSize":18,"color":"#9a9a92"},
 "encoding":{"x":{"field":"i","type":"quantitative","axis":null},"y":{"field":"p","type":"quantitative","axis":null},"text":{"field":"t"}}},
{"data":{"values":[{"t":"203天","i":-0.5,"p":14528}]},"mark":{"type":"text","align":"left","baseline":"middle","fontSize":18,"color":"#2a3a9a","font":"Noto Sans CJK SC"},
 "encoding":{"x":{"field":"i","type":"quantitative","axis":null},"y":{"field":"p","type":"quantitative","axis":null},"text":{"field":"t"}}},
{"data":{"name":"peaks"},"mark":{"type":"text","align":"center","baseline":"middle","fontSize":19},
 "encoding":{"x":{"field":"i","type":"quantitative","axis":null},"y":{"field":"p","type":"quantitative","axis":null},"text":{"field":"t"},
  "color":{"condition":{"test":"datum.k == 'hi'","value":"#d9534a"},"value":"#3f8a3f"}}},
{"data":{"name":"note"},"mark":{"type":"text","align":"left","baseline":"middle","fontSize":25,"color":"#151515","font":"Noto Sans CJK SC"},
 "encoding":{"x":{"field":"i","type":"quantitative","axis":null},"y":{"field":"p","type":"quantitative","axis":null},"text":{"field":"t"}}}
]
},
{
"layer":[
{"data":{"values":[{"v":150000}]},"mark":{"type":"rule","color":"#e0ddd0","strokeWidth":2},
 "encoding":{"y":{"field":"v","type":"quantitative","scale":{"domain":[0,150000],"range":[1231,1137],"nice":false,"zero":false},"axis":null}}},
{"data":{"values":[{"v":-3000}]},"mark":{"type":"rule","color":"#b5b5ad","strokeWidth":2.5},
 "encoding":{"y":{"field":"v","type":"quantitative","axis":null}}},
{"data":{"name":"k"},"mark":{"type":"bar","size":7,"strokeWidth":1.3},
 "encoding":{"x":{"field":"i","type":"quantitative","axis":null},"y":{"field":"v","type":"quantitative","axis":null,"stack":null},
  "fill":{"condition":[{"test":"datum.c > datum.o","value":"#fdfdf1"}],"value":"#0b7a0b"},
  "stroke":{"condition":[{"test":"datum.c > datum.o","value":"#e2534a"}],"value":"#0b7a0b"}}},
{"data":{"name":"oi"},"mark":{"type":"line","strokeWidth":1.6,"color":"#4a4a44","interpolate":"monotone"},
 "encoding":{"x":{"field":"i","type":"quantitative","axis":null},"y":{"field":"v","type":"quantitative","axis":null}}},
{"data":{"values":[{"t":"15万","i":-0.95,"v":150000}]},"mark":{"type":"text","align":"right","baseline":"middle","fontSize":18,"color":"#9a9a92","font":"Noto Sans CJK SC"},
 "encoding":{"x":{"field":"i","type":"quantitative","axis":null},"y":{"field":"v","type":"quantitative","axis":null},"text":{"field":"t"}}},
{"data":{"values":[{"t":"CJL∨","i":0.35,"v":325500}]},"mark":{"type":"text","align":"left","baseline":"middle","fontSize":18,"color":"#2a3a9a"},
 "encoding":{"x":{"field":"i","type":"quantitative","axis":null},"y":{"field":"v","type":"quantitative","axis":null},"text":{"field":"t"}}},
{"data":{"values":[{"t":"152360.00(43:57)","i":6.7,"v":325500},{"t":"OPID","i":26.6,"v":325500},{"t":"285184.00","i":33.3,"v":325500}]},"mark":{"type":"text","align":"left","baseline":"middle","fontSize":18,"color":"#222222"},
 "encoding":{"x":{"field":"i","type":"quantitative","axis":null},"y":{"field":"v","type":"quantitative","axis":null},"text":{"field":"t"}}}
]
}
],
"resolve":{"scale":{"y":"independent"}}
}
